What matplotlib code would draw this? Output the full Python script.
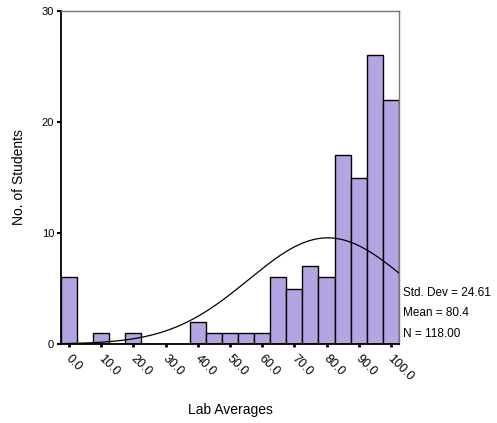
import numpy as np
import matplotlib.pyplot as plt
import matplotlib.transforms as mtransforms

plt.rcParams['font.family'] = ['Liberation Sans', 'DejaVu Sans']

centers = [0, 5, 10, 15, 20, 25, 30, 35, 40, 45, 50, 55, 60, 65, 70, 75, 80, 85, 90, 95, 100]
counts = [6, 0, 1, 0, 1, 0, 0, 0, 2, 1, 1, 1, 1, 6, 5, 7, 6, 17, 15, 26, 22]
tick_vals = [0, 10, 20, 30, 40, 50, 60, 70, 80, 90, 100]
tick_labels = ["0.0", "10.0", "20.0", "30.0", "40.0", "50.0", "60.0", "70.0", "80.0", "90.0", "100.0"]
std_dev = 24.61
mean = 80.4
n = 118.00
bin_w = 5

fig = plt.figure(figsize=(4.97, 4.23), dpi=100)
ax = fig.add_axes([0.1227, 0.1868, 0.680, 0.787])

ax.bar(centers, counts, width=bin_w, color="#b4a5e2", edgecolor="black", linewidth=1.0)

# fitted normal curve
xs = np.linspace(-2.5, 102.5, 300)
ys = n * bin_w / (std_dev * np.sqrt(2 * np.pi)) * np.exp(-0.5 * ((xs - mean) / std_dev) ** 2)
ax.plot(xs, ys, color="black", linewidth=0.9)

ax.set_xlim(-2.5, 102.5)
ax.set_ylim(0, 30)
ax.set_yticks([0, 10, 20, 30])
ax.set_yticklabels(["0", "10", "20", "30"], fontsize=8)
ax.set_xticks(tick_vals)
ax.set_xticklabels(tick_labels, rotation=-45, ha="left", va="top", fontsize=9,
                   rotation_mode="anchor")
ax.tick_params(axis="x", length=2, width=2, direction="out", pad=4)
ax.tick_params(axis="y", length=3, width=1.5, direction="out", pad=2)

shift = mtransforms.ScaledTranslation(3 / 100, 0, fig.dpi_scale_trans)
for lab in ax.get_xticklabels():
    lab.set_transform(lab.get_transform() + shift)

for s in ["top", "right"]:
    ax.spines[s].set_color("#777777")
    ax.spines[s].set_linewidth(1.0)
for s in ["left", "bottom"]:
    ax.spines[s].set_color("black")
    ax.spines[s].set_linewidth(1.3)

ax.set_ylabel("No. of Students", fontsize=10, labelpad=11)
fig.text(0.463, 0.031, "Lab Averages", fontsize=10, ha="center", va="center")

ax.text(1.012, 0.153, "Std. Dev = %.2f" % std_dev, transform=ax.transAxes, fontsize=8.5, va="center")
ax.text(1.012, 0.093, "Mean = %.1f" % mean, transform=ax.transAxes, fontsize=8.5, va="center")
ax.text(1.012, 0.030, "N = %.2f" % n, transform=ax.transAxes, fontsize=8.5, va="center")

fig.savefig("out.png", dpi=100)
